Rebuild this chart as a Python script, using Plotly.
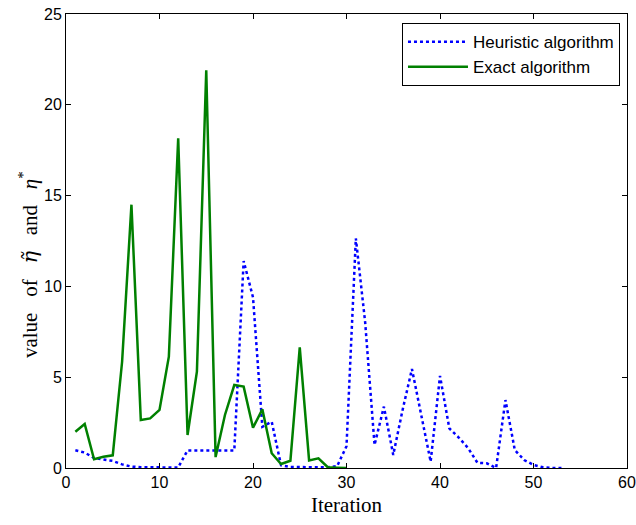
import plotly.graph_objects as go

iter_heur = list(range(1, 54))
heuristic = [0.98, 0.85, 0.55, 0.45, 0.39, 0.2, 0.08, 0.04, 0.03, 0.03,
             0.03, 0.03, 0.97, 0.97, 0.97, 0.97, 0.97, 0.97, 11.4, 9.4,
             2.27, 2.55, 0.15, 0.06, 0.05, 0.05, 0.04, 0.04, 0.1, 1.2,
             12.65, 8.0, 1.27, 3.38, 0.72, 3.2, 5.45, 2.83, 0.35, 5.07,
             2.18, 1.68, 1.1, 0.29, 0.26, 0.0, 3.74, 0.99, 0.44, 0.17,
             0.04, 0.0, 0.0]

iter_exact = list(range(1, 31))
exact = [2.0, 2.42, 0.48, 0.62, 0.7, 5.85, 14.5, 2.64, 2.73, 3.2,
         6.13, 18.15, 1.82, 5.3, 21.9, 0.6, 2.92, 4.57, 4.48, 2.22,
         3.23, 0.81, 0.22, 0.4, 6.64, 0.42, 0.53, 0.04, 0.02, 0.0]

x_ticks = [0, 10, 20, 30, 40, 50, 60]
y_ticks = [0, 5, 10, 15, 20, 25]

fig = go.Figure()
fig.add_trace(go.Scatter(x=iter_heur, y=heuristic, mode="lines",
                         name="Heuristic algorithm",
                         line=dict(color="#0000FF", width=2.5, dash="dot")))
fig.add_trace(go.Scatter(x=iter_exact, y=exact, mode="lines",
                         name="Exact algorithm",
                         line=dict(color="#008000", width=2.5)))

axis_common = dict(showgrid=False, zeroline=False, showline=True,
                   linecolor="black", linewidth=1, mirror="ticks",
                   ticks="inside", ticklen=5, tickcolor="black", automargin=False,
                   tickfont=dict(family="Liberation Sans, Arial", size=16, color="black"))

serif = "Liberation Serif, Times New Roman, serif"
fig.update_xaxes(range=[0, 60], tickvals=x_ticks, **axis_common,
                 title=dict(text="Iteration",
                            font=dict(family=serif, size=21, color="black"),
                            standoff=7))
fig.update_yaxes(range=[0, 25], tickvals=y_ticks, **axis_common)

fig.add_annotation(
    text="value&nbsp;&nbsp; of&nbsp;&nbsp; <span style='font-family:DejaVu Serif'><i>η̃</i></span>&nbsp;&nbsp; and&nbsp;&nbsp; <i>η</i><sup>*</sup>",
    xref="paper", yref="paper", x=0, y=0.447, xshift=-38,
    xanchor="center", yanchor="middle", textangle=-90, showarrow=False,
    font=dict(family=serif, size=21, color="black"))

fig.update_layout(
    width=636, height=525,
    margin=dict(l=66, r=9, t=14, b=57),
    plot_bgcolor="white", paper_bgcolor="white",
    showlegend=True,
    legend=dict(x=0.9875, y=0.98, xanchor="right", yanchor="top",
                bgcolor="white", bordercolor="black", borderwidth=1,
                font=dict(family="Liberation Sans, Arial", size=17, color="black"),
                itemwidth=60, tracegroupgap=0),
)

fig.write_html("out.html", config={"displayModeBar": False},
               post_script="document.body.style.margin='0';")
